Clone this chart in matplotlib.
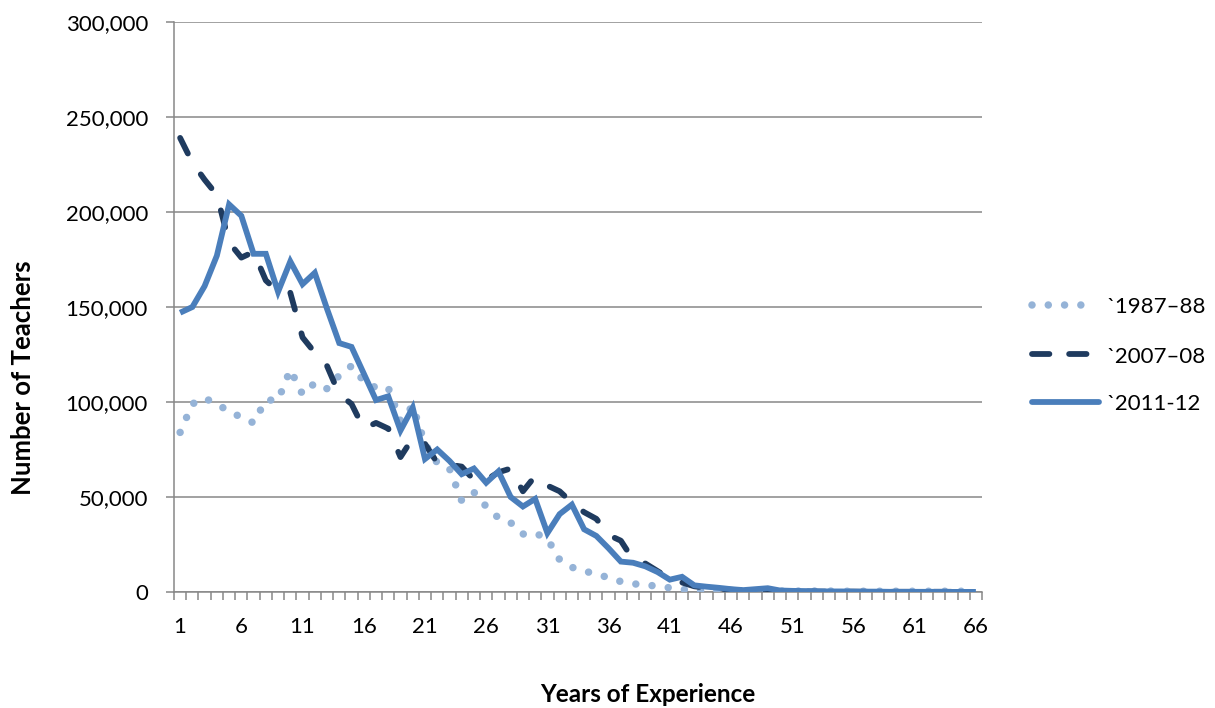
import numpy as np
import matplotlib
matplotlib.use("Agg")
import matplotlib.pyplot as plt
from matplotlib.lines import Line2D
from matplotlib.ticker import FuncFormatter

plt.rcParams['font.family'] = ['Lato', 'DejaVu Sans']

# Years of experience, 1..66
years = list(range(1, 67))

# Number of teachers (thousands) by years of experience
teachers_1987 = [
    84, 99, 102, 99, 95, 92, 89, 101, 101, 117,
    104, 110, 107, 114, 119, 111, 107.5, 107.5, 90, 98,
    78, 68, 65, 48, 52.5, 45, 39, 36.5, 30.5, 31,
    28, 17, 13, 11, 9.5, 7.5, 5.5, 4.3, 3.8, 3.0,
    2.2, 1.4, 0.8, 0.6, 0.5, 0.5, 0.5, 0.5, 0.5, 0.5,
    0.5, 0.5, 0.5, 0.5, 0.4, 0.4, 0.4, 0.4, 0.4, 0.4,
    0.4, 0.4, 0.4, 0.4, 0.4, 0.4,
]
teachers_2007 = [
    239, 226, 217, 209, 184, 176, 179, 164, 158, 157.5,
    134, 126, 119, 104, 99, 86, 89, 86, 71, 81,
    78, 68, 67, 66, 59, 59, 63, 65, 53, 61,
    56, 53, 47, 42, 38.5, 30, 27, 17, 15, 11,
    7, 5, 3, 2.2, 1.8, 1.2, 0.8, 0.6, 0.5, 0.3,
    0.3, 0.3, 0.2, 0.2, 0.2, 0.2, 0.1, 0.1, 0.1, 0.1,
    0.1, 0.1, 0.1, 0.1, 0.1, 0.1,
]
teachers_2011 = [
    147, 150, 161, 177, 204, 198, 178, 178, 158, 174,
    162, 168, 149, 131, 129, 115, 101, 103, 85, 97,
    70, 75, 69, 62, 65, 57.5, 63.5, 50, 45, 49,
    31, 41, 46, 33, 29.5, 23, 16, 15.4, 13.5, 10.5,
    6.5, 8, 3.5, 2.8, 2.2, 1.5, 1.0, 1.5, 2.0, 0.8,
    0.6, 0.5, 0.4, 0.3, 0.3, 0.2, 0.2, 0.2, 0.1, 0.1,
    0.1, 0.1, 0.1, 0.05, 0.05, 0.05,
]

series_labels = ["`1987\u201388", "`2007\u201308", "`2011-12"]
x_tick_labels = [str(v) for v in range(1, 67, 5)]
y_ticks = [0, 50000, 100000, 150000, 200000, 250000, 300000]

W, H = 1215, 708
fig = plt.figure(figsize=(W / 100, H / 100), dpi=100)

left, right, top, bottom = 174, 982, 22, 592
ax = fig.add_axes([left / W, 1 - bottom / H, (right - left) / W, (bottom - top) / H])

GRID = '#878787'
C_DOT = '#95B3D7'
C_DASH = '#1F3B5F'
C_SOLID = '#4A7EBB'

px = 0.72  # points per pixel at 100 dpi

dot_lw = 7.5 * px
dash_lw = 5.8 * px
solid_lw = 5.8 * px

dot_style = dict(color=C_DOT, lw=dot_lw, dashes=(0.001, 2.17),
                 dash_capstyle='round', solid_capstyle='round')
dash_style = dict(color=C_DASH, lw=dash_lw, dashes=(3.0, 4.25),
                  dash_capstyle='round', solid_joinstyle='round')
solid_style = dict(color=C_SOLID, lw=solid_lw, solid_capstyle='butt',
                   solid_joinstyle='miter')

y87 = np.array(teachers_1987) * 1000
y07 = np.array(teachers_2007) * 1000
y11 = np.array(teachers_2011) * 1000

ax.plot(years, y87, zorder=3, **dot_style)
ax.plot(years, y07, zorder=4, **dash_style)
ax.plot(years, y11, zorder=5, **solid_style)

ax.set_xlim(0.5, 66.5)
ax.set_ylim(0, 300000)

# gridlines
ax.set_yticks(y_ticks)
ax.yaxis.set_major_formatter(FuncFormatter(lambda v, p: f"{int(v):,}"))
ax.grid(axis='y', color=GRID, lw=1.1, zorder=1)
ax.set_axisbelow(True)

# x axis: labels every five years, tick marks between categories
ax.set_xticks(range(1, 67, 5))
ax.set_xticklabels(x_tick_labels)
ax.set_xticks(np.arange(0.5, 67, 1), minor=True)
ax.tick_params(axis='x', which='major', length=0, pad=18, labelsize=16)
ax.tick_params(axis='x', which='minor', length=8 * px, width=1.1, color=GRID,
               direction='out')
ax.tick_params(axis='y', which='major', length=8 * px, width=1.1, color=GRID,
               direction='out', pad=13, labelsize=16)

for s in ['top', 'right']:
    ax.spines[s].set_visible(False)
for s in ['left', 'bottom']:
    ax.spines[s].set_color(GRID)
    ax.spines[s].set_linewidth(1.1)

fig.text(23 / W, 1 - 378 / H, "Number of Teachers", rotation=90,
         ha='center', va='center', fontsize=18.5, fontweight='bold')
fig.text(648 / W, 1 - 695 / H, "Years of Experience",
         ha='center', va='center', fontsize=17.5, fontweight='bold')

# legend drawn in figure pixels
def fx(v):
    return v / W

def fy(v):
    return 1 - v / H

legend_rows = [
    (dot_style, 1032, 1097, 305.5, 313),
    (dash_style, 1032, 1092, 354, 362.5),
    (solid_style, 1032, 1099, 402, 410.5),
]
for (style, x0, x1, ly, base), label in zip(legend_rows, series_labels):
    st = dict(style)
    if style is solid_style:
        st['solid_capstyle'] = 'round'
    if style is dash_style:
        st['dashes'] = (3.0, 3.4)
    fig.add_artist(Line2D([fx(x0), fx(x1)], [fy(ly), fy(ly)],
                          transform=fig.transFigure, **st))
    fig.text(fx(1107), fy(base), label, ha='left', va='baseline', fontsize=16)

fig.savefig("out.png", dpi=100)
